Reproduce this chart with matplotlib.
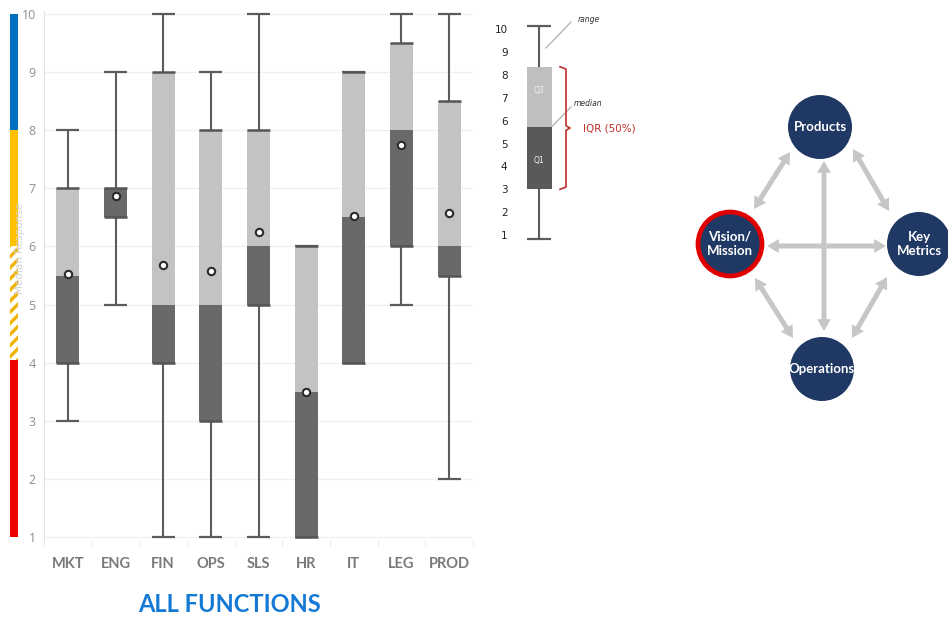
import matplotlib
matplotlib.use("Agg")
import matplotlib.pyplot as plt
from matplotlib.patches import Circle, FancyArrowPatch
import numpy as np

# ---- survey responses by function (box-plot summary) ----
categories = ["MKT", "ENG", "FIN", "OPS", "SLS", "HR", "IT", "LEG", "PROD"]
mins = [3, 5, 1, 1, 1, 1, 4, 5, 2]
q1 = [4, 6.5, 4, 3, 5, 1, 4, 6, 5.5]
medians = [5.5, 7, 5, 5, 6, 3.5, 6.5, 8, 6]
q3 = [7, 7, 9, 8, 8, 6, 9, 9.5, 8.5]
maxs = [8, 9, 10, 9, 10, 6, 9, 10, 10]
means = [5.52, 6.87, 5.68, 5.57, 6.24, 3.5, 6.52, 7.75, 6.58]
y_ticks = list(range(1, 11))

# response bands drawn beside the scale
band_low = [1, 4.05, 6, 8]
band_high = [4.05, 6, 8, 10]
band_colors = ["#ee0000", "hatch", "#ffc000", "#0070c0"]

# key explaining the box plot
key_stats = {"min": 0.85, "q1": 3.0, "median": 5.7, "q3": 8.35, "max": 10.15}

# relationship diagram
nodes = {
    "Products": (820, 127),
    "Vision/\nMission": (730, 244),
    "Key\nMetrics": (919, 244),
    "Operations": (822, 369),
}
links = [
    ((790, 152), (754, 209)),
    ((853, 149), (889, 211)),
    ((755, 278), (793, 338)),
    ((887, 277), (852, 338)),
    ((767, 246), (886, 246)),
    ((824, 161), (824, 331)),
]

DARK = "#696969"
LIGHT = "#c3c3c3"
WHISK = "#5c5c5c"
NAVY = "#1f3864"

W, H = 948, 618
fig = plt.figure(figsize=(W / 100, H / 100), dpi=100)
plt.rcParams["hatch.linewidth"] = 2.4


def px_axes(x0, y0, x1, y1):
    return fig.add_axes([x0 / W, 1 - y1 / H, (x1 - x0) / W, (y1 - y0) / H])


# ---------------- main box plot ----------------
ax = px_axes(44, 11.1, 473, 539.9)
x = np.arange(len(categories))
bw = 0.48
mins_a, q1_a, med_a, q3_a, max_a = map(np.asarray, (mins, q1, medians, q3, maxs))

ax.vlines(x, mins_a, q1_a, color=WHISK, lw=1.5, zorder=2)
ax.vlines(x, q3_a, max_a, color=WHISK, lw=1.5, zorder=2)
ax.hlines(mins_a, x - bw / 2, x + bw / 2, color=WHISK, lw=1.6, zorder=2)
ax.hlines(max_a, x - bw / 2, x + bw / 2, color=WHISK, lw=1.6, zorder=2)
ax.bar(x, med_a - q1_a, bottom=q1_a, width=bw, color=DARK, zorder=3)
ax.bar(x, q3_a - med_a, bottom=med_a, width=bw, color=LIGHT, zorder=3)
ax.hlines(q1_a, x - bw / 2, x + bw / 2, color="#555555", lw=1.8, zorder=4)
ax.hlines(q3_a, x - bw / 2, x + bw / 2, color="#555555", lw=1.8, zorder=4)
ax.scatter(x, means, s=28, facecolor="white", edgecolor="#2b2b2b", lw=1.5, zorder=5)

ax.set_xlim(-0.5, len(categories) - 0.5)
ax.set_ylim(0.95, 10.05)
ax.set_yticks(y_ticks)
ax.set_xticks(x)
ax.set_xticklabels(categories, fontsize=10.5, color="#7a7a7a", family="Lato",
                   fontweight="bold")
ax.set_xticks(np.arange(len(categories) + 1) - 0.5, minor=True)
ax.tick_params(axis="x", which="major", length=0, pad=12)
ax.tick_params(axis="x", which="minor", length=4, color="#e6e6e6")
ax.tick_params(axis="y", length=0, pad=6, labelsize=9, labelcolor="#8f8f8f")
for lab in ax.get_yticklabels():
    lab.set_family("Open Sans")
ax.grid(axis="y", color="#f0f0f0", lw=1, zorder=0)
ax.set_axisbelow(True)
for side in ("top", "right", "bottom"):
    ax.spines[side].set_visible(False)
ax.spines["left"].set_color("#e3e3e3")

fig.text(229 / W, 1 - 604 / H, "ALL FUNCTIONS", ha="center", va="center",
         fontsize=17, fontweight="bold", color="#1479d4", family="Lato")

# ---------------- band strip ----------------
bax = px_axes(10, 11.1, 18, 539.9)
for lo, hi, col in zip(band_low, band_high, band_colors):
    if col == "hatch":
        bax.bar(0.5, hi - lo, bottom=lo, width=1, facecolor="white",
                edgecolor="#f0b400", hatch="///", lw=0)
    else:
        bax.bar(0.5, hi - lo, bottom=lo, width=1, color=col, lw=0)
bax.set_xlim(0, 1)
bax.set_ylim(0.95, 10.05)
bax.axis("off")
fig.text(20 / W, 1 - 248 / H, "Median Response", rotation=90, ha="center",
         va="center", fontsize=7.5, color="#d2d2d2")

# ---------------- box plot key ----------------
def vk(p):
    return 10 - (p - 29) / 22.9


kax = px_axes(520, 10, 640, 245)
kax.set_xlim(520, 640)
kax.set_ylim(vk(245), vk(10))
kx, kw = 539, 25
kax.vlines(kx, key_stats["min"], key_stats["q1"], color=WHISK, lw=1.5)
kax.vlines(kx, key_stats["q3"], key_stats["max"], color=WHISK, lw=1.5)
kax.hlines([key_stats["min"], key_stats["max"]], kx - 12, kx + 12, color=WHISK, lw=1.6)
kax.bar(kx, key_stats["median"] - key_stats["q1"], bottom=key_stats["q1"],
        width=kw, color="#595959", zorder=3)
kax.bar(kx, key_stats["q3"] - key_stats["median"], bottom=key_stats["median"],
        width=kw, color="#bfbfbf", zorder=3)
kax.text(kx, (key_stats["median"] + key_stats["q3"]) / 2 + 0.3, "Q3", ha="center",
         va="center", fontsize=5.5, color="#f2f2f2", zorder=4)
kax.text(kx, (key_stats["q1"] + key_stats["median"]) / 2 - 0.1, "Q1", ha="center",
         va="center", fontsize=5.5, color="#f2f2f2", zorder=4)
kax.plot([546, 571], [vk(48), vk(22)], color="#b0b0b0", lw=0.9)
kax.text(578, vk(19), "range", fontsize=5.5, style="italic", color="#333333", va="center")
kax.plot([551, 571], [key_stats["median"], vk(107)], color="#b0b0b0", lw=0.9)
kax.text(574, vk(104), "median", fontsize=5.5, style="italic", color="#333333", va="center")
mid = (key_stats["q1"] + key_stats["q3"]) / 2
kax.plot([560, 566, 566, 570, 566, 566, 560],
         [key_stats["q3"], key_stats["q3"] - 0.1, mid + 0.1, mid, mid - 0.1,
          key_stats["q1"] + 0.1, key_stats["q1"]], color="#c0302b", lw=1.2)
kax.text(583, mid, "IQR (50%)", fontsize=7.5, color="#c0302b", va="center")
kax.set_yticks(y_ticks)
kax.set_xticks([])
kax.tick_params(axis="y", length=0, pad=9, labelsize=7.5, labelcolor="#222222")
for side in kax.spines.values():
    side.set_visible(False)
kax.patch.set_alpha(0)

# ---------------- relationship diagram ----------------
dax = px_axes(680, 80, 948, 410)
dax.set_xlim(680, 948)
dax.set_ylim(410, 80)
dax.axis("off")
for a, b in links:
    m = ((a[0] + b[0]) / 2, (a[1] + b[1]) / 2)
    for end in (a, b):
        dax.add_patch(FancyArrowPatch(m, end, arrowstyle="simple,head_length=8.5,head_width=10,tail_width=3.6",
                                      mutation_scale=1, color="#c6c6c6", lw=0,
                                      shrinkA=0, shrinkB=0, zorder=1))
for name, (cx, cy) in nodes.items():
    ring = name.startswith("Vision")
    dax.add_patch(Circle((cx, cy), 32, facecolor=NAVY,
                         edgecolor="#e00000" if ring else "none",
                         lw=3.4 if ring else 0, zorder=2))
    dax.text(cx, cy, name, ha="center", va="center", color="white",
             fontsize=9.5, fontweight="bold", family="Lato", linespacing=1.25, zorder=3)

fig.savefig("out.png", dpi=100)
